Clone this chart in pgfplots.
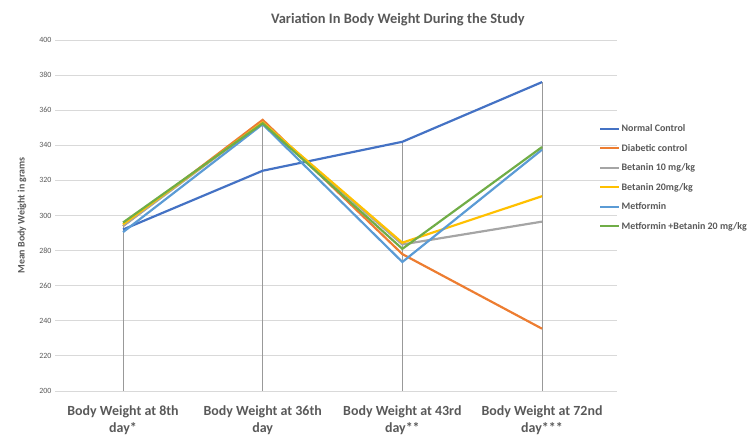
\documentclass[border=0pt]{standalone}
\usepackage{pgfplots}
\pgfplotsset{compat=1.18}
\usepackage{fontspec}
\setmainfont{Carlito}

\definecolor{cNormal}{HTML}{4472C4}
\definecolor{cDiab}{HTML}{ED7D31}
\definecolor{cBet10}{HTML}{A5A5A5}
\definecolor{cBet20}{HTML}{FFC000}
\definecolor{cMet}{HTML}{5B9BD5}
\definecolor{cMetBet}{HTML}{70AD47}
\definecolor{txtgray}{HTML}{595959}
\definecolor{gridgray}{HTML}{D9D9D9}

\begin{document}
\begin{tikzpicture}[x=1bp,y=1bp]
\path[use as bounding box] (0,0) rectangle (750,437);
\begin{axis}[
  at={(55bp,46bp)}, anchor=south west,
  scale only axis, width=562bp, height=351bp,
  xmin=-0.487, xmax=3.537, ymin=200, ymax=400,
  ytick={200,220,...,400},
  xtick={0,1,2,3},
  xticklabels={{Body Weight at 8th\\day*},{Body Weight at 36th\\day},{Body Weight at 43rd\\day**},{Body Weight at 72nd\\day***}},
  xticklabel style={align=center, font=\fontsize{14}{17}\selectfont\bfseries, text=txtgray, yshift=-11bp},
  yticklabel style={font=\fontsize{8}{9}\selectfont, text=txtgray},
  /pgf/number format/assume math mode=true,
  axis line style={draw=none},
  major tick length=0pt,
  ymajorgrids, grid style={gridgray, line width=0.8pt},
  ylabel={Mean Body Weight in grams},
  ylabel style={font=\fontsize{10}{12}\selectfont\bfseries, text=txtgray, at={(axis description cs:-0.045,0.5)}},
  title={Variation In Body Weight During the Study},
  title style={font=\fontsize{14.5}{16}\selectfont\bfseries, text=txtgray, at={(axis description cs:0.61,1.04)}, anchor=center},
  legend style={at={(axis description cs:0.968,0.765)}, anchor=north west, draw=none, fill=none,
    font=\fontsize{10}{12}\selectfont\bfseries, text=txtgray, row sep=7bp, inner sep=0pt},
  legend cell align=left,
  legend image code/.code={\draw[#1, line width=2pt] (0,0) -- (0.65cm,0);},
  every axis plot/.append style={line width=2.2pt, mark=none},
  clip=false,
]
% drop lines down from the highest value at each time point
\addplot[forget plot, ycomb, gray!80, line width=0.7pt, restrict y to domain=0:400] coordinates {(0,296) (1,354) (2,342) (3,376)};
\addplot[cNormal] coordinates {(0,292) (1,325.5) (2,342) (3,376)};
\addlegendentry{Normal Control}
\addplot[cDiab] coordinates {(0,294) (1,354.5) (2,278) (3,235.5)};
\addlegendentry{Diabetic control}
\addplot[cBet10] coordinates {(0,294) (1,353) (2,283.5) (3,296.5)};
\addlegendentry{Betanin 10 mg/kg}
\addplot[cBet20] coordinates {(0,295) (1,353) (2,284.5) (3,311)};
\addlegendentry{Betanin 20mg/kg}
\addplot[cMet] coordinates {(0,290.5) (1,352) (2,273.5) (3,337.5)};
\addlegendentry{Metformin}
\addplot[cMetBet] coordinates {(0,296) (1,352.5) (2,281) (3,339)};
\addlegendentry{Metformin +Betanin 20 mg/kg}
\end{axis}
\end{tikzpicture}
\end{document}
